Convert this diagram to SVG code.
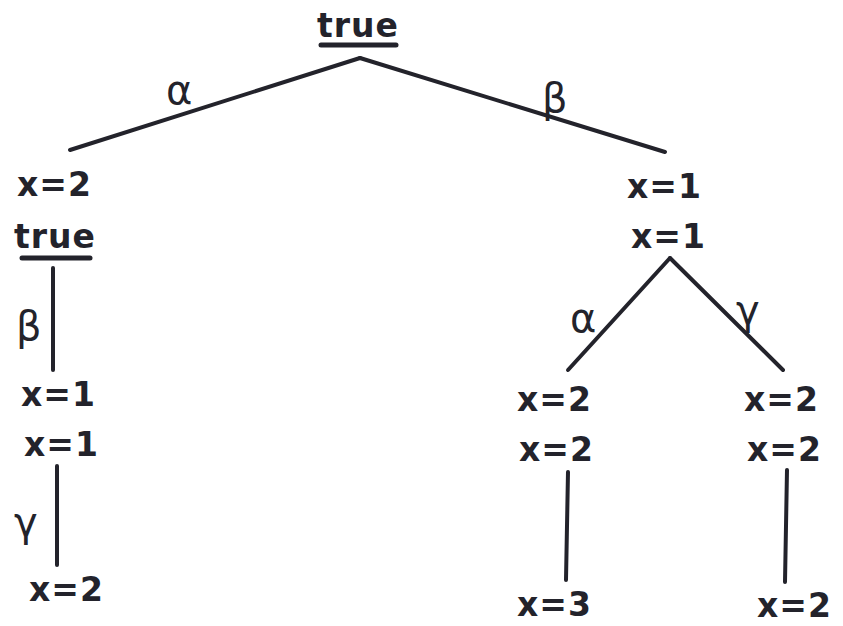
<svg xmlns="http://www.w3.org/2000/svg" width="843" height="626" viewBox="0 0 843 626">
<style>
.t{font-family:"DejaVu Sans",sans-serif;font-weight:bold;font-size:33px;fill:#23232b;letter-spacing:1px}
.g{font-family:"DejaVu Sans",sans-serif;font-size:40px;fill:#23232b}
.e{stroke:#23232b;stroke-width:4;stroke-linecap:round;fill:none}
.u{stroke:#23232b;stroke-width:5;stroke-linecap:round}
</style>
<rect width="843" height="626" fill="#fff"/>
<g id="connectors">
<line class="e" x1="360" y1="58" x2="70" y2="150"/>
<line class="e" x1="360" y1="58" x2="665" y2="152"/>
<line class="e" x1="53" y1="268" x2="53" y2="370"/>
<line class="e" x1="57" y1="466" x2="57" y2="565"/>
<line class="e" x1="670" y1="258" x2="568" y2="370"/>
<line class="e" x1="670" y1="258" x2="783" y2="370"/>
<line class="e" x1="568" y1="472" x2="566" y2="580"/>
<line class="e" x1="787" y1="470" x2="785" y2="582"/>
<text class="g" x="166" y="104">α</text>
<text class="g" x="542" y="112">β</text>
<text class="g" x="16" y="340">β</text>
<text class="g" x="14" y="536">γ</text>
<text class="g" x="570" y="332">α</text>
<text class="g" x="736" y="324">γ</text>
</g>
<g id="root">
<text class="t" x="317" y="37">true</text>
<line class="u" x1="321" y1="45" x2="396" y2="45"/>
</g>
<g id="left1"><text class="t" x="17" y="196">x=2</text></g>
<g id="left1b">
<text class="t" x="14" y="248">true</text>
<line class="u" x1="22" y1="258" x2="90" y2="258"/>
</g>
<g id="left2"><text class="t" x="21" y="406">x=1</text></g>
<g id="left2b"><text class="t" x="24" y="456">x=1</text></g>
<g id="left3"><text class="t" x="29" y="601">x=2</text></g>
<g id="right1"><text class="t" x="627" y="198">x=1</text></g>
<g id="right1b"><text class="t" x="631" y="248">x=1</text></g>
<g id="rl"><text class="t" x="517" y="411">x=2</text></g>
<g id="rlb"><text class="t" x="519" y="461">x=2</text></g>
<g id="rl2"><text class="t" x="517" y="616">x=3</text></g>
<g id="rr"><text class="t" x="744" y="411">x=2</text></g>
<g id="rrb"><text class="t" x="747" y="461">x=2</text></g>
<g id="rr2"><text class="t" x="757" y="617">x=2</text></g>
</svg>
